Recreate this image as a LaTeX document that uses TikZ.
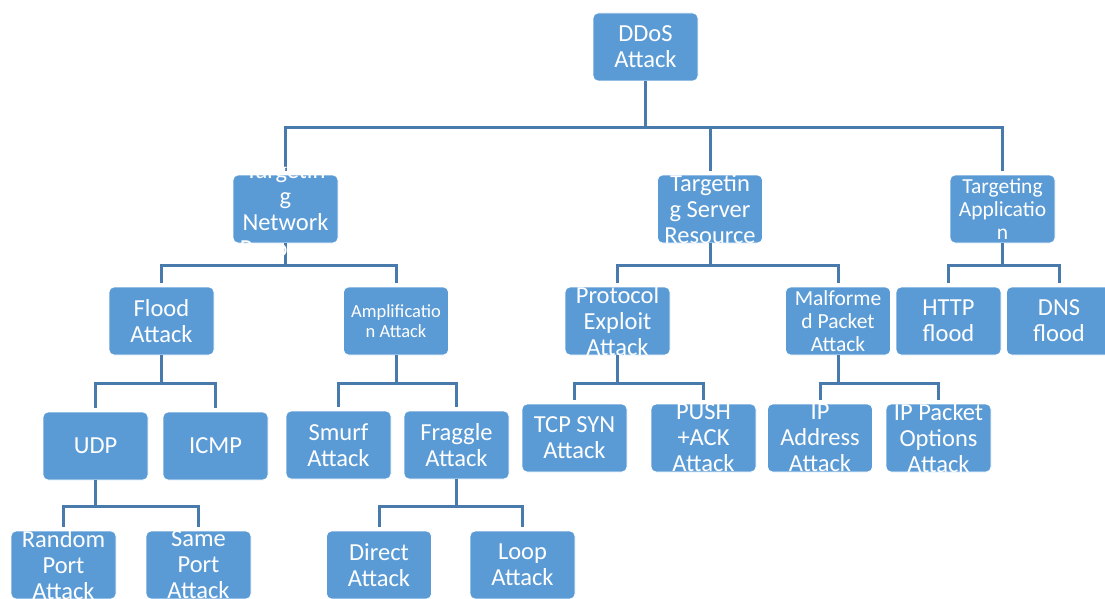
\documentclass[tikz,border=0pt]{standalone}
\usepackage{fontspec}
\setmainfont{Carlito}
\definecolor{boxblue}{HTML}{5B9BD5}
\definecolor{linkblue}{RGB}{72,122,172}
\tikzset{
  x=1pt, y=-1pt,
  box/.style={rectangle, rounded corners=5pt, fill=boxblue, draw=white, line width=0.8pt,
              minimum width=105pt, minimum height=68pt, inner sep=0pt},
  lbl/.style={text=white, align=center, inner sep=0pt, font=\fontsize{24.5}{26}\selectfont},
  lblsmall/.style={lbl, font=\fontsize{18.5}{19.5}\selectfont},
  lblmid/.style={lbl, font=\fontsize{21.5}{23}\selectfont},
  conn/.style={draw=linkblue, line width=3pt, shorten >=4pt},
}
\begin{document}
\begin{tikzpicture}
\useasboundingbox (0,0) rectangle (1105,599);
% boxes
\node[box] (ddos) at (645.5,47) {};
\node[box] (net) at (285.5,209) {};
\node[box] (srv) at (710,209) {};
\node[box] (app) at (1002.5,209) {};
\node[box] (flood) at (161.5,321) {};
\node[box] (amp) at (396,321) {};
\node[box] (prot) at (617.5,321) {};
\node[box] (mal) at (838,321) {};
\node[box] (http) at (948.5,321) {};
\node[box] (dns) at (1059,321) {};
\node[box] (udp) at (95.5,446) {};
\node[box] (icmp) at (215.5,446) {};
\node[box] (smurf) at (338.5,445) {};
\node[box] (fraggle) at (456.5,445) {};
\node[box] (tcp) at (574.5,438) {};
\node[box] (push) at (703.5,438) {};
\node[box] (ipaddr) at (820,438) {};
\node[box] (ippkt) at (938.5,438) {};
\node[box] (random) at (63.5,565) {};
\node[box] (same) at (198.5,565) {};
\node[box] (direct) at (379,565) {};
\node[box] (loop) at (522.5,565) {};
% bus levels
\coordinate (b1) at (0,128);
\coordinate (b2) at (0,265);
\coordinate (b3) at (0,383);
\coordinate (b4) at (0,506);
% connectors
\foreach \c in {net,srv,app}
  \draw[conn] (ddos.south) -- (ddos.south |- b1) -| (\c.north);
\foreach \c in {flood,amp}
  \draw[conn] (net.south) -- (net.south |- b2) -| (\c.north);
\foreach \c in {prot,mal}
  \draw[conn] (srv.south) -- (srv.south |- b2) -| (\c.north);
\foreach \c in {http,dns}
  \draw[conn] (app.south) -- (app.south |- b2) -| (\c.north);
\foreach \c in {udp,icmp}
  \draw[conn] (flood.south) -- (flood.south |- b3) -| (\c.north);
\foreach \c in {smurf,fraggle}
  \draw[conn] (amp.south) -- (amp.south |- b3) -| (\c.north);
\foreach \c in {tcp,push}
  \draw[conn] (prot.south) -- (prot.south |- b3) -| (\c.north);
\foreach \c in {ipaddr,ippkt}
  \draw[conn] (mal.south) -- (mal.south |- b3) -| (\c.north);
\foreach \c in {random,same}
  \draw[conn] (udp.south) -- (udp.south |- b4) -| (\c.north);
\foreach \c in {direct,loop}
  \draw[conn] (fraggle.south) -- (fraggle.south |- b4) -| (\c.north);
% labels
\node[lbl] (ddos-t) at (ddos) {DDoS\\Attack};
\node[lbl] (net-t) at (net) {Targetin\\g\\Network\\Resource};
\node[lbl] (srv-t) at (srv) {Targetin\\g Server\\Resource};
\node[lblmid] (app-t) at (app) {Targeting\\Applicatio\\n};
\node[lbl] (flood-t) at (flood) {Flood\\Attack};
\node[lblsmall] (amp-t) at (amp) {Amplificatio\\n Attack};
\node[lbl] (prot-t) at (prot) {Protocol\\Exploit\\Attack};
\node[lblmid] (mal-t) at (mal) {Malforme\\d Packet\\Attack};
\node[lbl] (http-t) at (http) {HTTP\\flood};
\node[lbl] (dns-t) at (dns) {DNS\\flood};
\node[lbl] (udp-t) at (udp) {UDP};
\node[lbl] (icmp-t) at (icmp) {ICMP};
\node[lbl] (smurf-t) at (smurf) {Smurf\\Attack};
\node[lbl] (fraggle-t) at (fraggle) {Fraggle\\Attack};
\node[lbl] (tcp-t) at (tcp) {TCP SYN\\Attack};
\node[lbl] (push-t) at (push) {PUSH\\+ACK\\Attack};
\node[lbl] (ipaddr-t) at (ipaddr) {IP\\Address\\Attack};
\node[lbl] (ippkt-t) at (ippkt) {IP Packet\\Options\\Attack};
\node[lbl] (random-t) at (random) {Random\\Port\\Attack};
\node[lbl] (same-t) at (same) {Same\\Port\\Attack};
\node[lbl] (direct-t) at (direct) {Direct\\Attack};
\node[lbl] (loop-t) at (loop) {Loop\\Attack};
\end{tikzpicture}
\end{document}
